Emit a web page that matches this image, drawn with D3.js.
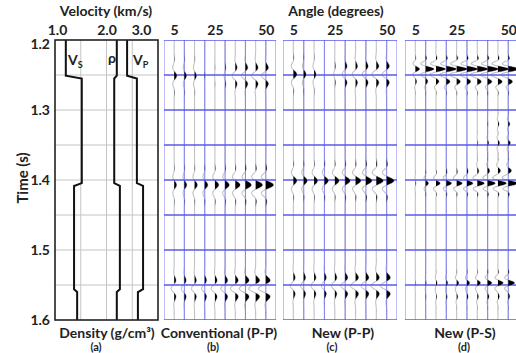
<!DOCTYPE html>
<html>
<head>
<meta charset="utf-8">
<script src="https://cdn.jsdelivr.net/npm/d3@7"></script>
<style>
  body { margin: 0; background: #fff; }
  text { font-family: Lato, "Open Sans", sans-serif; font-weight: 700; fill: #222; }
</style>
</head>
<body>
<div id="chart"></div>
<script>
// time axis
const timeTicks = [1.2, 1.3, 1.4, 1.5, 1.6];
const gridTimes = [1.2, 1.25, 1.3, 1.35, 1.4, 1.45, 1.5, 1.55, 1.6];

// well logs (panel a): interface times and layer values
const velTicks = [1.0, 2.0, 3.0];
const velGrid = [1.5, 2.0, 2.5];
const interfaces = [1.251, 1.4045, 1.556];
const vsLog = [1.21, 1.52, 1.37, 1.43];
const rhoLog = [2.20, 2.15, 2.26, 2.20];
const vpLog = [2.40, 2.59, 2.71, 2.61];

// angle gathers
const angles = [5, 10, 15, 20, 25, 30, 35, 40, 45, 50];
const angleTicks = [5, 25, 50];
const angleGrid = [0, 10, 20, 30, 40, 50, 55];

// reflection events: time and amplitude per angle
const convPP = [
  { t: 1.251, amp: [2.5, 2, 1.8, 0.3, -0.3, -1, -3, -3.8, -4, -4.3] },
  { t: 1.407, amp: [2.3, 2.3, 2.7, 3, 3.7, 4, 4.7, 5.7, 6.7, 7.5] },
  { t: 1.555, amp: [-3, -3, -3, -3, -3.6, -4.2, -4.9, -6, -6.7, -7.3] }
];
const newPP = [
  { t: 1.249, amp: [3.3, 2.2, 1.8, 0, -1, -3, -3.2, -3.6, -4.2, -4.4] },
  { t: 1.401, amp: [3.3, 3.3, 3.3, 3.7, 4, 4.7, 5, 5.7, 6.7, 7] },
  { t: 1.551, amp: [-3, -3, -3, -3, -3.2, -4.2, -4.8, -4.8, -5, -6] }
];
const newPS = [
  { t: 1.2414, amp: [4, 8, 9, 9.5, 10, 10, 10, 10, 10, 10] },
  { t: 1.26, amp: [1, 1.5, 2.3, 3, 3, 3, 3.3, 3.5, 3.5, 3.5] },
  { t: 1.32, amp: [0, 0, 0, 0, 0, 0, 0, 0.3, 1, 1.5] },
  { t: 1.347, amp: [0, 0, 0, 0, 0, 0, 0.5, 1, 1.5, 2] },
  { t: 1.386, amp: [0, 0, 0, 0.3, 0.3, 0.6, 1, 1.5, 2, 2.5] },
  { t: 1.4047, amp: [0.5, 2.7, 4, 5, 5.3, 5.7, 6.7, 7.3, 8, 9] },
  { t: 1.547, amp: [0.3, 0.5, 1, 1.3, 2, 2.5, 3, 4, 5, 6] },
  { t: 1.567, amp: [0, 0.3, 0.6, 0.8, 1, 1, 1, 1.2, 1.2, 1.2] }
];

const W = 516, H = 353;
const plotTop = 40, plotBottom = 320;
const gain = 0.5; // degrees of deflection per amplitude unit

const svg = d3.select("#chart").append("svg")
  .attr("width", W).attr("height", H);

const y = d3.scaleLinear().domain([1.2, 1.6]).range([plotTop, plotBottom]);

// ---------- panel (a) ----------
const xVel = d3.scaleLinear().domain([1.0, 3.0]).range([55, 158]);
const pa = svg.append("g");

pa.selectAll(".vg").data(velGrid).enter().append("line")
  .attr("x1", d => xVel(d)).attr("x2", d => xVel(d))
  .attr("y1", plotTop).attr("y2", plotBottom)
  .attr("stroke", "#c4c4c4").attr("stroke-width", 1);
pa.selectAll(".hg").data(gridTimes.slice(1, -1)).enter().append("line")
  .attr("x1", xVel(1.0)).attr("x2", xVel(3.0))
  .attr("y1", d => y(d)).attr("y2", d => y(d))
  .attr("stroke", "#c4c4c4").attr("stroke-width", 1);

function logPoints(vals) {
  const ramp = 0.004;
  const pts = [[vals[0], 1.2]];
  interfaces.forEach((t, i) => {
    pts.push([vals[i], t]);
    pts.push([vals[i + 1], t + ramp]);
  });
  pts.push([vals[vals.length - 1], 1.6]);
  return pts;
}
const logLine = d3.line().x(d => xVel(d[0])).y(d => y(d[1]));
[vsLog, rhoLog, vpLog].forEach(vals => {
  pa.append("path").attr("d", logLine(logPoints(vals)))
    .attr("fill", "none").attr("stroke", "#111").attr("stroke-width", 2);
});

pa.append("rect")
  .attr("x", xVel(1.0)).attr("y", plotTop)
  .attr("width", xVel(3.0) - xVel(1.0)).attr("height", plotBottom - plotTop)
  .attr("fill", "none").attr("stroke", "#222").attr("stroke-width", 1.6);

const axT = pa.append("g").attr("transform", `translate(0,${plotTop})`)
  .call(d3.axisTop(xVel).tickValues(velTicks).tickSize(0).tickPadding(5).tickFormat(d3.format(".1f")));
axT.select(".domain").remove();
axT.selectAll("text").attr("font-size", 14).attr("fill", "#222")
  .attr("dx", (d, i) => i === 0 ? 2 : (i === velTicks.length - 1 ? -17 : 0));

const axL = pa.append("g").attr("transform", `translate(${xVel(1.0)},0)`)
  .call(d3.axisLeft(y).tickValues(timeTicks).tickSize(0).tickPadding(5).tickFormat(d3.format(".1f")));
axL.select(".domain").remove();
axL.selectAll("text").attr("font-size", 14).attr("fill", "#222")
  .attr("dy", (d, i) => i === 0 ? "0.62em" : "0.32em");

svg.append("text").attr("x", 106).attr("y", 16).attr("text-anchor", "middle")
  .attr("font-size", 14).text("Velocity (km/s)");
svg.append("text").attr("transform", "translate(28,178) rotate(-90)")
  .attr("text-anchor", "middle").attr("font-size", 15).text("Time (s)");
svg.append("text").attr("x", 107).attr("y", 338).attr("text-anchor", "middle")
  .attr("font-size", 14).text("Density (g/cm\u00B3)");

function logLabel(x, yy, main, sub) {
  const t = svg.append("text").attr("x", x).attr("y", yy).attr("font-size", 14);
  t.append("tspan").text(main);
  if (sub) t.append("tspan").attr("font-size", 9).attr("dy", 3).text(sub);
}
logLabel(68, 65, "V", "S");
logLabel(108, 63, "\u03C1", null);
logLabel(133, 65, "V", "P");

// ---------- gather panels ----------
const panels = [
  { x0: 164, x1: 276, events: convPP, T: 0.026, title: "Conventional (P-P)", tx: 219, tag: "(b)", gx: 213 },
  { x0: 283, x1: 397, events: newPP, T: 0.026, title: "New (P-P)", tx: 343, tag: "(c)", gx: 332 },
  { x0: 405, x1: 518.6, events: newPS, T: 0.017, title: "New (P-S)", tx: 465, tag: "(d)", gx: 464 }
];

const tSamples = d3.range(1.2, 1.6002, 0.0005);
function wavelet(tau, T) {
  const s = T / 1.55;
  return Math.cos(2 * Math.PI * tau / T) * Math.exp(-(tau / s) * (tau / s));
}

panels.forEach((p, pi) => {
  const x = d3.scaleLinear().domain([0, 55]).range([p.x0, p.x1]);
  const g = svg.append("g");
  const clipId = "clip" + pi;
  g.append("clipPath").attr("id", clipId).append("rect")
    .attr("x", p.x0).attr("y", plotTop).attr("width", p.x1 - p.x0).attr("height", plotBottom - plotTop);

  const traces = angles.map((a, i) => ({
    angle: a,
    pts: tSamples.map(t => [t, d3.sum(p.events, e => e.amp[i] * wavelet(t - e.t, p.T))])
  }));

  const body = g.append("g").attr("clip-path", `url(#${clipId})`);

  // wiggle lines
  body.selectAll(".wig").data(traces).enter().append("path")
    .attr("d", tr => d3.line().x(d => x(tr.angle + d[1] * gain)).y(d => y(d[0]))(tr.pts))
    .attr("fill", "none").attr("stroke", "#c2c2c2").attr("stroke-width", 1.1);

  // blue grid
  body.selectAll(".gv").data(angleGrid).enter().append("line")
    .attr("x1", d => x(d)).attr("x2", d => x(d))
    .attr("y1", plotTop).attr("y2", plotBottom)
    .attr("stroke", "#8a8af0").attr("stroke-width", 1.1);
  body.selectAll(".gh").data(gridTimes).enter().append("line")
    .attr("x1", p.x0).attr("x2", p.x1)
    .attr("y1", d => y(d)).attr("y2", d => y(d))
    .attr("stroke", "#5858ec").attr("stroke-width", 1.5);

  // variable area fill
  body.selectAll(".va").data(traces).enter().append("path")
    .attr("d", tr => d3.area()
      .x0(x(tr.angle))
      .x1(d => x(tr.angle + Math.max(0, d[1]) * gain))
      .y(d => y(d[0]))(tr.pts))
    .attr("fill", "#000");

  const ax = g.append("g").attr("transform", `translate(0,${plotTop})`)
    .call(d3.axisTop(x).tickValues(angleTicks).tickSize(0).tickPadding(5));
  ax.select(".domain").remove();
  ax.selectAll("text").attr("font-size", 14).attr("fill", "#222");

  svg.append("text").attr("x", p.tx).attr("y", 338).attr("text-anchor", "middle")
    .attr("font-size", 14).text(p.title);
  svg.append("text").attr("x", p.gx).attr("y", 351).attr("text-anchor", "middle")
    .attr("font-size", 11).attr("font-weight", 400).text(p.tag);
});

svg.append("text").attr("x", 96).attr("y", 351).attr("text-anchor", "middle")
  .attr("font-size", 11).attr("font-weight", 400).text("(a)");
svg.append("text").attr("x", 336).attr("y", 16).attr("text-anchor", "middle")
  .attr("font-size", 14).text("Angle (degrees)");
</script>
</body>
</html>
